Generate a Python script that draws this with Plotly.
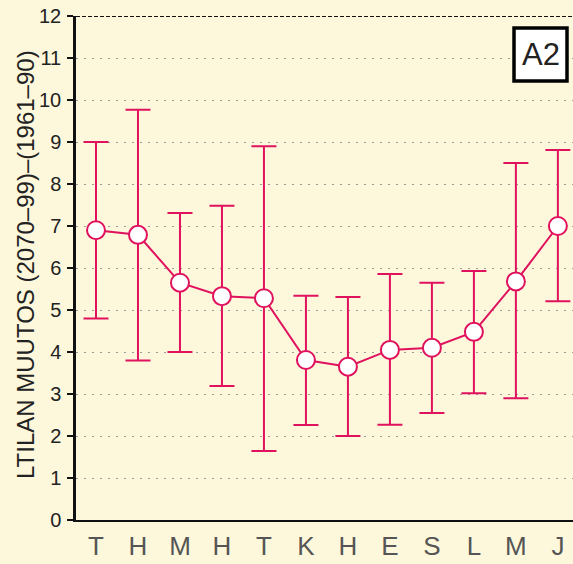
import plotly.graph_objects as go

months = ["T", "H", "M", "H", "T", "K", "H", "E", "S", "L", "M", "J"]
mean_change = [6.9, 6.79, 5.65, 5.33, 5.28, 3.81, 3.65, 4.05, 4.1, 4.48, 5.68, 7.0]
upper = [9.0, 9.77, 7.31, 7.48, 8.9, 5.34, 5.31, 5.86, 5.65, 5.93, 8.5, 8.81]
lower = [4.8, 3.8, 4.0, 3.19, 1.64, 2.26, 2.0, 2.27, 2.55, 3.02, 2.9, 5.21]
y_ticks = list(range(0, 13))

x = list(range(len(months)))
err_plus = [u - m for u, m in zip(upper, mean_change)]
err_minus = [m - l for m, l in zip(mean_change, lower)]

pink = "#e0125e"
bg = "#fdf8dc"
font_family = "Liberation Sans, Arial, sans-serif"

fig = go.Figure()
fig.add_trace(go.Scatter(
    x=x, y=mean_change, mode="lines+markers",
    line=dict(color=pink, width=2),
    marker=dict(size=18, color="white", line=dict(color=pink, width=2)),
    error_y=dict(type="data", symmetric=False, array=err_plus, arrayminus=err_minus,
                 color=pink, thickness=2, width=12.5),
    showlegend=False, cliponaxis=False, hoverinfo="skip",
))

fig.update_layout(
    width=573, height=564,
    margin=dict(l=76, r=0, t=16, b=44),
    paper_bgcolor=bg, plot_bgcolor=bg,
    font=dict(family=font_family, color="#222"),
    xaxis=dict(
        range=[-0.476, 11.36], tickmode="array", tickvals=x, ticktext=months,
        showgrid=False, zeroline=False, showline=True, linecolor="#111", linewidth=2,
        ticks="", tickfont=dict(size=26, color="#555"), ticklabelstandoff=2,
        automargin=False,
    ),
    yaxis=dict(
        range=[0, 12], tickmode="array", tickvals=y_ticks,
        ticktext=[str(v) for v in y_ticks],
        showgrid=True, gridcolor="#9a9a9a", griddash="2px,6px", gridwidth=1,
        zeroline=False, showline=True, linecolor="#111", linewidth=2.5,
        ticks="outside", ticklen=6, tickcolor="#111", tickwidth=1.5,
        tickfont=dict(size=20, color="#222"), ticklabelstandoff=2,
        automargin=False,
    ),
    shapes=[
        dict(type="line", xref="paper", yref="y", x0=0, x1=1, y0=12, y1=12,
             line=dict(color="#111", width=2, dash="4px,2px")),
        dict(type="rect", xref="paper", yref="paper",
             x0=(514 - 76) / 497, x1=(567 - 76) / 497,
             y0=(520 - 81) / 504, y1=(520 - 28) / 504,
             fillcolor="white", line=dict(color="black", width=3.5)),
    ],
    annotations=[
        dict(text="A2", xref="paper", yref="paper",
             x=(540.5 - 76) / 497, y=(520 - 54.5) / 504, showarrow=False,
             font=dict(size=31, color="#222"), xanchor="center", yanchor="middle"),
        dict(text="LTILAN MUUTOS (2070\u201399)\u2013(1961\u201390)", xref="paper", yref="paper",
             x=(25 - 76) / 497, y=(520 - 265) / 504, textangle=-90, showarrow=False,
             font=dict(size=24, color="#222"), xanchor="center", yanchor="middle"),
    ],
)

fig.write_html("out.html", config={"displayModeBar": False},
               post_script="document.body.style.margin='0';document.body.style.overflow='hidden';")
